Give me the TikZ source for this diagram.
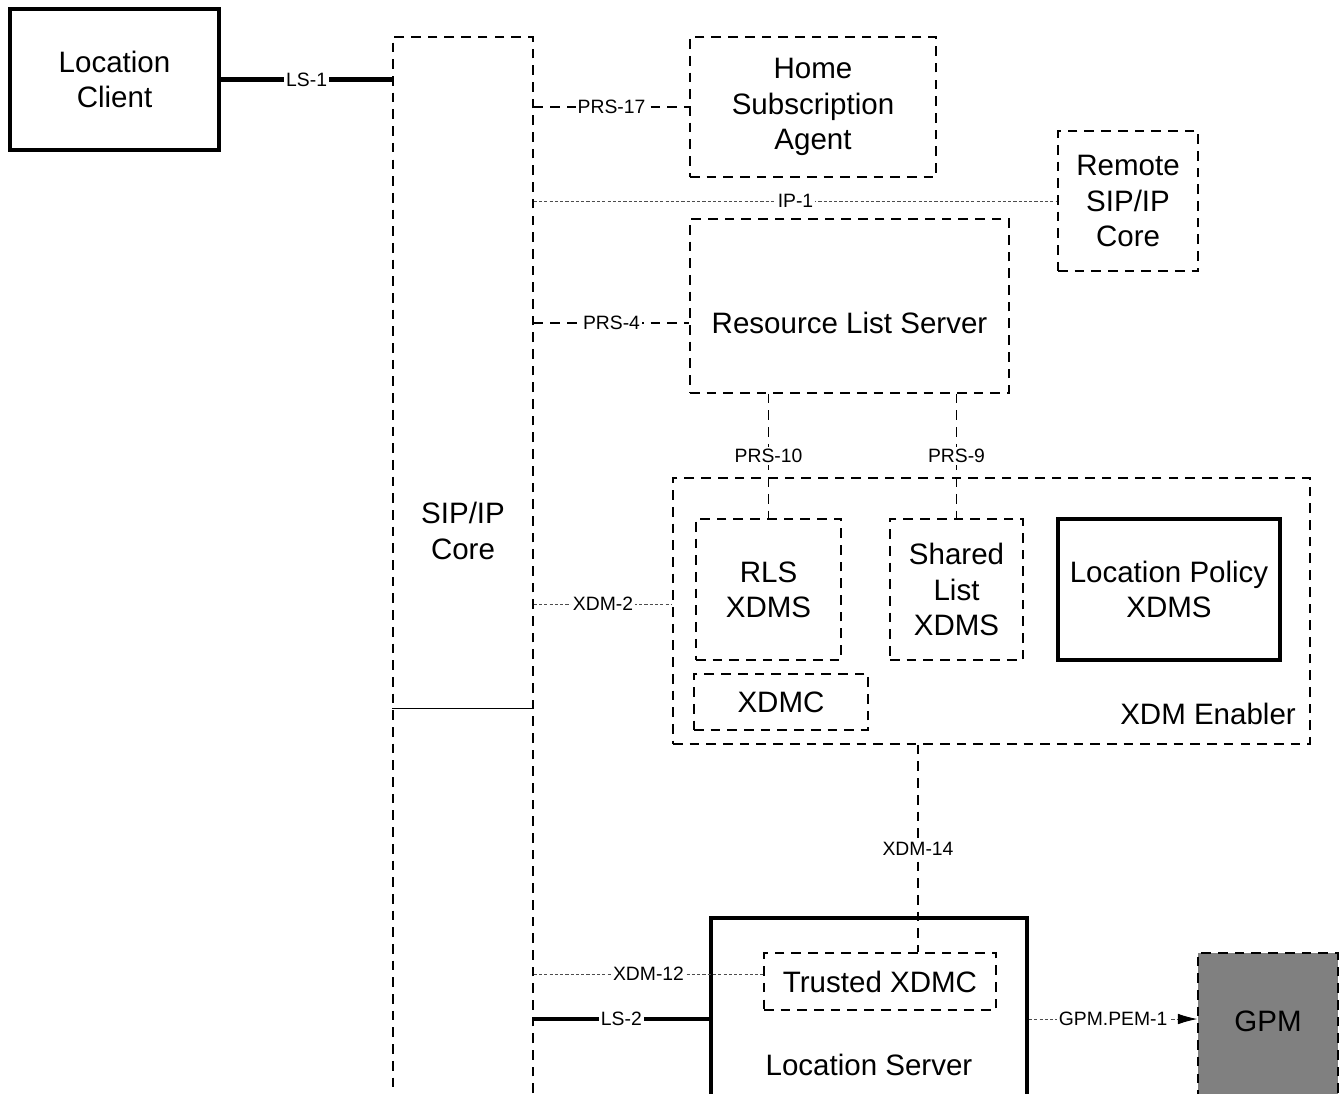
\documentclass[tikz,border=0pt]{standalone}
\usepackage{fontspec}
\setmainfont{Liberation Sans}
\usetikzlibrary{arrows.meta}

\begin{document}
\begin{tikzpicture}[x=0.02cm,y=-0.02cm,
	every node/.style={align=center,font=\fontsize{16.8}{20}\selectfont},
	box/.style={draw,line width=0.85pt,dash pattern=on 5.5pt off 4pt,inner sep=0pt},
	solidbox/.style={draw,line width=2.3pt,inner sep=0pt},
	dashlink/.style={line width=0.85pt,dash pattern=on 5.5pt off 4pt},
	dotlink/.style={line width=0.5pt,dash pattern=on 1.8pt off 1.2pt,draw=black!70},
	thicklink/.style={line width=2.3pt},
	lab/.style={fill=white,text=black,inner sep=1pt,font=\fontsize{11}{13}\selectfont}]

\useasboundingbox (0,0) rectangle (1341,1093);
\clip (0,0) rectangle (1341,1093);

\node[solidbox,minimum width=209*0.02cm,minimum height=141*0.02cm] (lc) at (114.5,79.5) {Location\\Client};
\node[box,minimum width=140*0.02cm,minimum height=1083*0.02cm] (sip) at (463,578.5) {};
\node (sipl) at (463,531) {SIP/IP\\Core};
\coordinate (cut) at (463,708);
\node[box,minimum width=246*0.02cm,minimum height=140*0.02cm] (hsa) at (813,107) {Home\\Subscription\\Agent};
\node[box,minimum width=140*0.02cm,minimum height=140*0.02cm] (rsip) at (1128,201) {Remote\\SIP/IP\\Core};
\node[box,minimum width=319*0.02cm,minimum height=174*0.02cm] (rls) at (849.5,306) {};
\node (rlsl) at (849.5,323) {Resource List Server};
\node[box,minimum width=637*0.02cm,minimum height=266*0.02cm] (xdm) at (991.5,611) {};
\node[anchor=east] (xdml) at (1302,714) {XDM Enabler};
\node[box,minimum width=145*0.02cm,minimum height=141*0.02cm] (rlsx) at (768.5,589.5) {RLS\\XDMS};
\node[box,minimum width=133*0.02cm,minimum height=141*0.02cm] (slx) at (956.5,589.5) {Shared\\List\\XDMS};
\node[solidbox,minimum width=222*0.02cm,minimum height=141*0.02cm] (lpx) at (1169,589.5) {Location Policy\\XDMS};
\node[box,minimum width=174*0.02cm,minimum height=56*0.02cm] (xdmc) at (781,702) {XDMC};
\node[solidbox,minimum width=316*0.02cm,minimum height=202*0.02cm] (ls) at (869,1019) {};
\node (lsl) at (869,1065) {Location Server};
\node[box,minimum width=232*0.02cm,minimum height=57*0.02cm] (txdmc) at (880,981.5) {Trusted XDMC};
\node[box,fill=black!50,minimum width=140*0.02cm,minimum height=167*0.02cm] (gpm) at (1268,1036.5) {};
\node (gpml) at (1268,1021) {GPM};

\coordinate (k2) at (0,604);
\coordinate (k12) at (0,974);
\coordinate (k14) at (918,0);

\draw[line width=0.5pt] (sip.west |- cut) -- (sip.east |- cut);
\draw[thicklink] (lc.east) -- (lc.east -| sip.west) node[midway,lab] {LS-1};
\draw[dashlink] (sip.east |- hsa.west) -- (hsa.west) node[midway,lab] {PRS-17};
\draw[dotlink] (sip.east |- rsip.west) -- (rsip.west) node[midway,lab] {IP-1};
\draw[dashlink] (sip.east |- rlsl) -- (rls.west |- rlsl) node[midway,lab] {PRS-4};
\draw[dashlink] (rls.south -| rlsx.north) -- (rlsx.north) node[midway,lab] {PRS-10};
\draw[dashlink] (rls.south -| slx.north) -- (slx.north) node[midway,lab] {PRS-9};
\draw[dotlink] (sip.east |- k2) -- (xdm.west |- k2) node[midway,lab] {XDM-2};
\draw[dashlink] (xdm.south -| k14) -- (txdmc.north -| k14) node[midway,lab] {XDM-14};
\draw[dotlink] (sip.east |- k12) -- (txdmc.west |- k12) node[midway,lab] {XDM-12};
\draw[thicklink] (sip.east |- ls.west) -- (ls.west) node[midway,lab] {LS-2};
\draw[dotlink,-{Latex[length=11pt,width=6pt,color=black]}] (ls.east) -- (ls.east -| gpm.west) node[midway,lab] {GPM.PEM-1};

\end{tikzpicture}
\end{document}
